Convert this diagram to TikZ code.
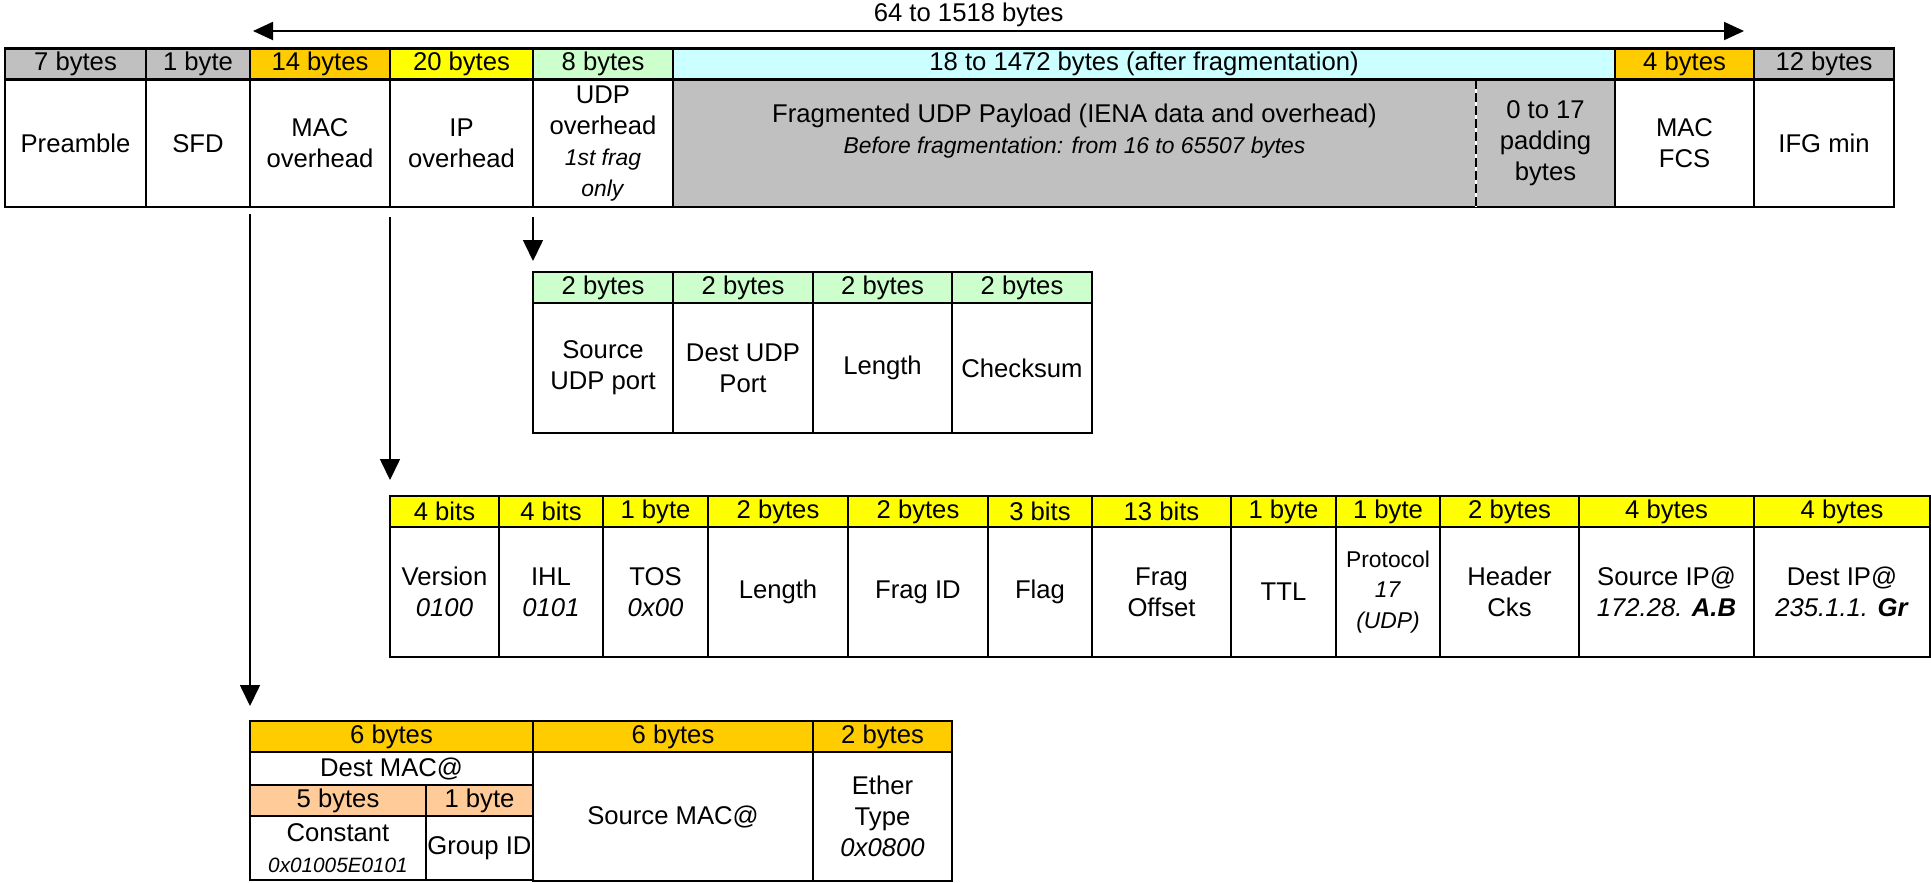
\documentclass[tikz,border=0pt]{standalone}
\usepackage{fontspec}
\setmainfont{Liberation Sans}
\usetikzlibrary{arrows.meta, positioning}
\usepackage{xcolor}
\definecolor{fgray}{RGB}{192, 192, 192}
\definecolor{forange}{RGB}{255, 204, 0}
\definecolor{fyellow}{RGB}{255, 255, 0}
\definecolor{fgreen}{RGB}{204, 255, 204}
\definecolor{fcyan}{RGB}{204, 255, 255}
\definecolor{fpeach}{RGB}{255, 204, 153}
\newcommand{\cellfont}{\fontsize{7.3}{8.8}\selectfont}
\newcommand{\smallfont}{\fontsize{6.5}{8.2}\selectfont}
\newcommand{\tinyfont}{\fontsize{5.9}{7.2}\selectfont}

\begin{document}
\begin{tikzpicture}[
  hdr/.style={rectangle, draw, line width=0.8pt, fill=#1, outer sep=0pt, inner sep=0pt,
              anchor=north west, minimum height=0.31cm, font=\cellfont},
  cell/.style={rectangle, draw, line width=0.8pt, fill=white, outer sep=0pt, inner sep=0pt,
               anchor=north west, align=center, font=\cellfont},
  thin/.style={line width=0.35pt},
  arr/.style={-{Triangle[length=0.21cm, width=0.2cm]}, line width=0.45pt},
  dbl/.style={{Triangle[length=0.2cm, width=0.18cm]}-{Triangle[length=0.2cm, width=0.18cm]}, line width=0.55pt}
]
\useasboundingbox (0,0) rectangle (19.31,-8.82);

% frame on the wire
\node[hdr=fgray,   minimum width=1.41cm] (h1) at (0.05,-0.485) {7 bytes};
\node[hdr=fgray,   minimum width=1.04cm, right=0pt of h1] (h2) {1 byte};
\node[hdr=forange, minimum width=1.40cm, right=0pt of h2] (h3) {14 bytes};
\node[hdr=fyellow, minimum width=1.43cm, right=0pt of h3] (h4) {20 bytes};
\node[hdr=fgreen,  minimum width=1.40cm, right=0pt of h4] (h5) {8 bytes};
\node[hdr=fcyan,   minimum width=9.42cm, right=0pt of h5] (h6) {18 to 1472 bytes (after fragmentation)};
\node[hdr=forange, minimum width=1.39cm, right=0pt of h6] (h7) {4 bytes};
\node[hdr=fgray,   minimum width=1.40cm, right=0pt of h7] (h8) {12 bytes};

\node[cell, minimum width=1.41cm, minimum height=1.275cm, below=0pt of h1] (pre) {Preamble};
\node[cell, minimum width=1.04cm, minimum height=1.275cm, below=0pt of h2] (sfd) {SFD};
\node[cell, minimum width=1.40cm, minimum height=1.275cm, below=0pt of h3] (macoh) {MAC\\overhead};
\node[cell, minimum width=1.43cm, minimum height=1.275cm, below=0pt of h4] (ipoh) {IP\\overhead};
\node[cell, minimum width=1.40cm, minimum height=1.275cm, below=0pt of h5] (udpoh)
  {UDP\\overhead\\\textit{\smallfont 1st frag}\\\textit{\smallfont only}};
\node[cell, fill=fgray, minimum width=8.03cm, minimum height=1.275cm] (pay) at (h6.south west) {};
\node[cell, fill=fgray, minimum width=1.39cm, minimum height=1.275cm, right=0pt of pay] (pad)
  {0 to 17\\padding\\bytes};
\node[cell, minimum width=1.39cm, minimum height=1.275cm, below=0pt of h7] (fcs) {MAC\\FCS};
\node[cell, minimum width=1.40cm, minimum height=1.275cm, below=0pt of h8] (ifg) {IFG min};
\node[font=\cellfont, align=center] (paytxt) at ([yshift=0.12cm]pay.center)
  {Fragmented UDP Payload (IENA data and overhead)\\\textit{\smallfont Before fragmentation: from 16 to 65507 bytes}};
\draw[white, line width=0.8pt] (pay.north east) -- (pay.south east);
\draw[line width=0.8pt, dash pattern=on 0.09cm off 0.04cm] (pay.north east) -- (pay.south east);

\coordinate (spanl) at (2.53,-0.31);
\coordinate (spanr) at (17.44,-0.31);
\draw[dbl] (spanl) -- node[pos=0.48, above=1pt, inner sep=0pt, font=\cellfont] (span) {64 to 1518 bytes} (spanr);

% UDP header
\node[hdr=fgreen, minimum width=1.40cm] (u1) at (5.33,-2.72) {2 bytes};
\node[hdr=fgreen, minimum width=1.40cm, right=0pt of u1] (u2) {2 bytes};
\node[hdr=fgreen, minimum width=1.39cm, right=0pt of u2] (u3) {2 bytes};
\node[hdr=fgreen, minimum width=1.40cm, right=0pt of u3] (u4) {2 bytes};
\node[cell, minimum width=1.40cm, minimum height=1.30cm, below=0pt of u1] (usrc) {Source\\UDP port};
\node[cell, minimum width=1.40cm, minimum height=1.30cm, below=0pt of u2] (udst) {Dest UDP\\Port};
\node[cell, minimum width=1.39cm, minimum height=1.30cm, below=0pt of u3] (ulen) {Length};
\node[cell, minimum width=1.40cm, minimum height=1.30cm, below=0pt of u4] (ucks) {Checksum};

% IP header
\node[hdr=fyellow, minimum width=1.09cm] (i1) at (3.90,-4.96) {4 bits};
\node[hdr=fyellow, minimum width=1.04cm, right=0pt of i1]  (i2)  {4 bits};
\node[hdr=fyellow, minimum width=1.05cm, right=0pt of i2]  (i3)  {1 byte};
\node[hdr=fyellow, minimum width=1.40cm, right=0pt of i3]  (i4)  {2 bytes};
\node[hdr=fyellow, minimum width=1.40cm, right=0pt of i4]  (i5)  {2 bytes};
\node[hdr=fyellow, minimum width=1.04cm, right=0pt of i5]  (i6)  {3 bits};
\node[hdr=fyellow, minimum width=1.39cm, right=0pt of i6]  (i7)  {13 bits};
\node[hdr=fyellow, minimum width=1.05cm, right=0pt of i7]  (i8)  {1 byte};
\node[hdr=fyellow, minimum width=1.04cm, right=0pt of i8]  (i9)  {1 byte};
\node[hdr=fyellow, minimum width=1.39cm, right=0pt of i9]  (i10) {2 bytes};
\node[hdr=fyellow, minimum width=1.75cm, right=0pt of i10] (i11) {4 bytes};
\node[hdr=fyellow, minimum width=1.76cm, right=0pt of i11] (i12) {4 bytes};
\node[cell, minimum width=1.09cm, minimum height=1.30cm, below=0pt of i1]  (ver)  {Version\\\textit{0100}};
\node[cell, minimum width=1.04cm, minimum height=1.30cm, below=0pt of i2]  (ihl)  {IHL\\\textit{0101}};
\node[cell, minimum width=1.05cm, minimum height=1.30cm, below=0pt of i3]  (tos)  {TOS\\\textit{0x00}};
\node[cell, minimum width=1.40cm, minimum height=1.30cm, below=0pt of i4]  (ilen) {Length};
\node[cell, minimum width=1.40cm, minimum height=1.30cm, below=0pt of i5]  (fid)  {Frag ID};
\node[cell, minimum width=1.04cm, minimum height=1.30cm, below=0pt of i6]  (flag) {Flag};
\node[cell, minimum width=1.39cm, minimum height=1.30cm, below=0pt of i7]  (foff) {Frag\\Offset};
\node[cell, minimum width=1.05cm, minimum height=1.30cm, below=0pt of i8]  (ttl)  {TTL};
\node[cell, minimum width=1.04cm, minimum height=1.30cm, below=0pt of i9]  (prot)
  {\smallfont Protocol\\\textit{\smallfont 17}\\\textit{\smallfont (UDP)}};
\node[cell, minimum width=1.39cm, minimum height=1.30cm, below=0pt of i10] (hcks) {Header\\Cks};
\node[cell, minimum width=1.75cm, minimum height=1.30cm, below=0pt of i11] (sip)
  {Source IP@\\\textit{172.28. \textbf{A.B}}};
\node[cell, minimum width=1.76cm, minimum height=1.30cm, below=0pt of i12] (dip)
  {Dest IP@\\\textit{235.1.1. \textbf{Gr}}};

% MAC header
\node[hdr=forange, minimum width=2.83cm] (m1) at (2.50,-7.21) {6 bytes};
\node[hdr=forange, minimum width=2.80cm, right=0pt of m1] (m2) {6 bytes};
\node[hdr=forange, minimum width=1.39cm, right=0pt of m2] (m3) {2 bytes};
\node[cell, thin, minimum width=2.83cm, minimum height=0.33cm, below=0pt of m1] (dmac) {Dest MAC@};
\node[hdr=fpeach, thin, minimum width=1.76cm] (p1) at (dmac.south west) {5 bytes};
\node[hdr=fpeach, thin, minimum width=1.07cm, right=0pt of p1] (p2) {1 byte};
\node[cell, thin, minimum width=1.76cm, minimum height=0.64cm, below=0pt of p1] (cst)
  {Constant\\\textit{\tinyfont 0x01005E0101}};
\node[cell, thin, minimum width=1.07cm, minimum height=0.64cm, below=0pt of p2] (grp) {Group ID};
\node[cell, minimum width=2.80cm, minimum height=1.29cm, below=0pt of m2] (smac) {Source MAC@};
\node[cell, minimum width=1.39cm, minimum height=1.29cm, below=0pt of m3] (eth)
  {Ether\\Type\\\textit{0x0800}};
\draw[line width=0.8pt] (dmac.north west) rectangle (grp.south east);

\draw[arr, shorten <=0.10cm, shorten >=0.11cm] (udpoh.south west) -- (u1.north west);
\draw[arr, shorten <=0.10cm, shorten >=0.16cm] (ipoh.south west) -- (i1.north west);
\draw[arr, shorten <=0.07cm, shorten >=0.15cm] (macoh.south west) -- (m1.north west);
\end{tikzpicture}
\end{document}
